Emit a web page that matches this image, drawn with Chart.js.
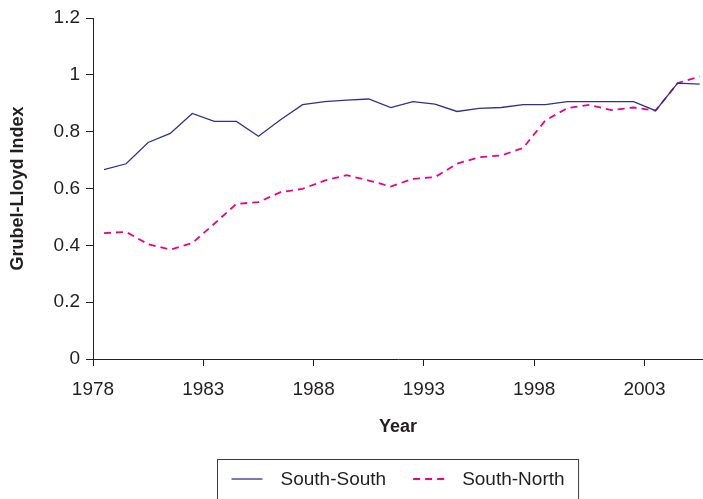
<!DOCTYPE html>
<html>
<head>
<meta charset="utf-8">
<title>Grubel-Lloyd Index</title>
<script src="https://cdn.jsdelivr.net/npm/chart.js@4/dist/chart.umd.min.js"></script>
<style>
  html, body { margin: 0; padding: 0; background: #fff; }
  #wrap { width: 703px; height: 499px; }
</style>
</head>
<body>
<div id="wrap"><canvas id="glChart"></canvas></div>
<script>
// Données
const years = [1978, 1979, 1980, 1981, 1982, 1983, 1984, 1985, 1986, 1987,
               1988, 1989, 1990, 1991, 1992, 1993, 1994, 1995, 1996, 1997,
               1998, 1999, 2000, 2001, 2002, 2003, 2004, 2005];
const southSouth = [0.666, 0.687, 0.762, 0.794, 0.864, 0.836, 0.836, 0.784, 0.842, 0.895,
                    0.906, 0.911, 0.915, 0.885, 0.906, 0.897, 0.871, 0.882, 0.885, 0.895,
                    0.895, 0.906, 0.906, 0.906, 0.906, 0.874, 0.971, 0.967];
const southNorth = [0.443, 0.447, 0.404, 0.385, 0.408, 0.476, 0.546, 0.552, 0.587, 0.599,
                    0.628, 0.647, 0.628, 0.607, 0.634, 0.640, 0.687, 0.710, 0.716, 0.743,
                    0.839, 0.883, 0.894, 0.876, 0.885, 0.874, 0.971, 0.994];
const xTickYears = [1978, 1983, 1988, 1993, 1998, 2003];
const xTickLabels = ['1978', '1983', '1988', '1993', '1998', '2003'];
const yTickLabels = ['0', '0.2', '0.4', '0.6', '0.8', '1', '1.2'];
const seriesNames = ['South-South', 'South-North'];

const textColor = '#231f20';
const fontFamily = '"Liberation Sans", Arial, sans-serif';

// chaque valeur annuelle est placée au milieu de son année
function toPoints(values) {
    return values.map((v, i) => ({ x: years[i] + 0.5, y: v }));
}

// Légende encadrée sous le graphique
const boxedLegend = {
    id: 'boxedLegend',
    afterDraw(chart) {
        const ctx = chart.ctx;
        const area = chart.chartArea;
        ctx.save();
        ctx.font = '19px ' + fontFamily;
        const sample = 31, gapText = 18, gapItem = 27, pad = 14;
        const widths = chart.data.datasets.map(ds => ctx.measureText(ds.label).width);
        let total = pad * 2 + gapItem * (widths.length - 1);
        widths.forEach(w => { total += sample + gapText + w; });
        const left = Math.round((area.left + area.right) / 2 - total / 2) + 0.5;
        const top = 459.5;
        const midY = 479;

        ctx.strokeStyle = '#3c3c3c';
        ctx.lineWidth = 1;
        ctx.strokeRect(left, top, total, 60);

        let x = left + pad;
        chart.data.datasets.forEach((ds, i) => {
            ctx.beginPath();
            ctx.setLineDash(ds.borderDash || []);
            ctx.strokeStyle = ds.borderColor;
            ctx.lineWidth = ds.borderWidth;
            ctx.moveTo(x, midY);
            ctx.lineTo(x + sample, midY);
            ctx.stroke();
            ctx.setLineDash([]);
            x += sample + gapText;
            ctx.fillStyle = textColor;
            ctx.textBaseline = 'middle';
            ctx.textAlign = 'left';
            ctx.fillText(ds.label, x, midY + 1);
            x += widths[i] + gapItem;
        });
        ctx.restore();
    }
};

document.addEventListener('DOMContentLoaded', function () {
    const ctx = document.getElementById('glChart');
    new Chart(ctx, {
        type: 'line',
        data: {
            datasets: [{
                label: seriesNames[0],
                data: toPoints(southSouth),
                borderColor: '#2e3192',
                borderWidth: 1.3,
                pointRadius: 0,
                tension: 0
            }, {
                label: seriesNames[1],
                data: toPoints(southNorth),
                borderColor: '#ec008c',
                borderWidth: 1.8,
                borderDash: [7, 5],
                pointRadius: 0,
                tension: 0
            }]
        },
        options: {
            responsive: true,
            maintainAspectRatio: false,
            animation: false,
            layout: { padding: { top: 18, right: 0, left: 0, bottom: 60 } },
            plugins: {
                legend: { display: false },
                tooltip: { enabled: false }
            },
            scales: {
                x: {
                    type: 'linear',
                    min: 1978,
                    max: 2005.65,
                    afterBuildTicks: scale => {
                        scale.ticks = xTickYears.map(v => ({ value: v }));
                    },
                    afterFit: scale => { scale.height = 80; },
                    ticks: {
                        autoSkip: false,
                        maxRotation: 0,
                        padding: 12,
                        color: textColor,
                        font: { family: fontFamily, size: 19 },
                        callback: (value, index) => xTickLabels[index]
                    },
                    grid: {
                        drawOnChartArea: false,
                        drawTicks: true,
                        tickLength: 7,
                        color: textColor
                    },
                    border: { display: true, color: textColor, width: 1 },
                    title: {
                        display: true,
                        text: 'Year',
                        color: textColor,
                        font: { family: fontFamily, size: 18, weight: 'bold' },
                        padding: { top: 0, bottom: 1 }
                    }
                },
                y: {
                    min: 0,
                    max: 1.2,
                    afterFit: scale => { scale.width = 93; },
                    ticks: {
                        stepSize: 0.2,
                        padding: 6,
                        color: textColor,
                        font: { family: fontFamily, size: 19 },
                        callback: (value, index) => yTickLabels[index]
                    },
                    grid: {
                        drawOnChartArea: false,
                        drawTicks: true,
                        tickLength: 7,
                        color: textColor
                    },
                    border: { display: true, color: textColor, width: 1 },
                    title: {
                        display: true,
                        text: 'Grubel-Lloyd Index',
                        color: textColor,
                        font: { family: fontFamily, size: 18, weight: 'bold' },
                        padding: { top: 7, bottom: 0 }
                    }
                }
            }
        },
        plugins: [boxedLegend]
    });
});
</script>
</body>
</html>
